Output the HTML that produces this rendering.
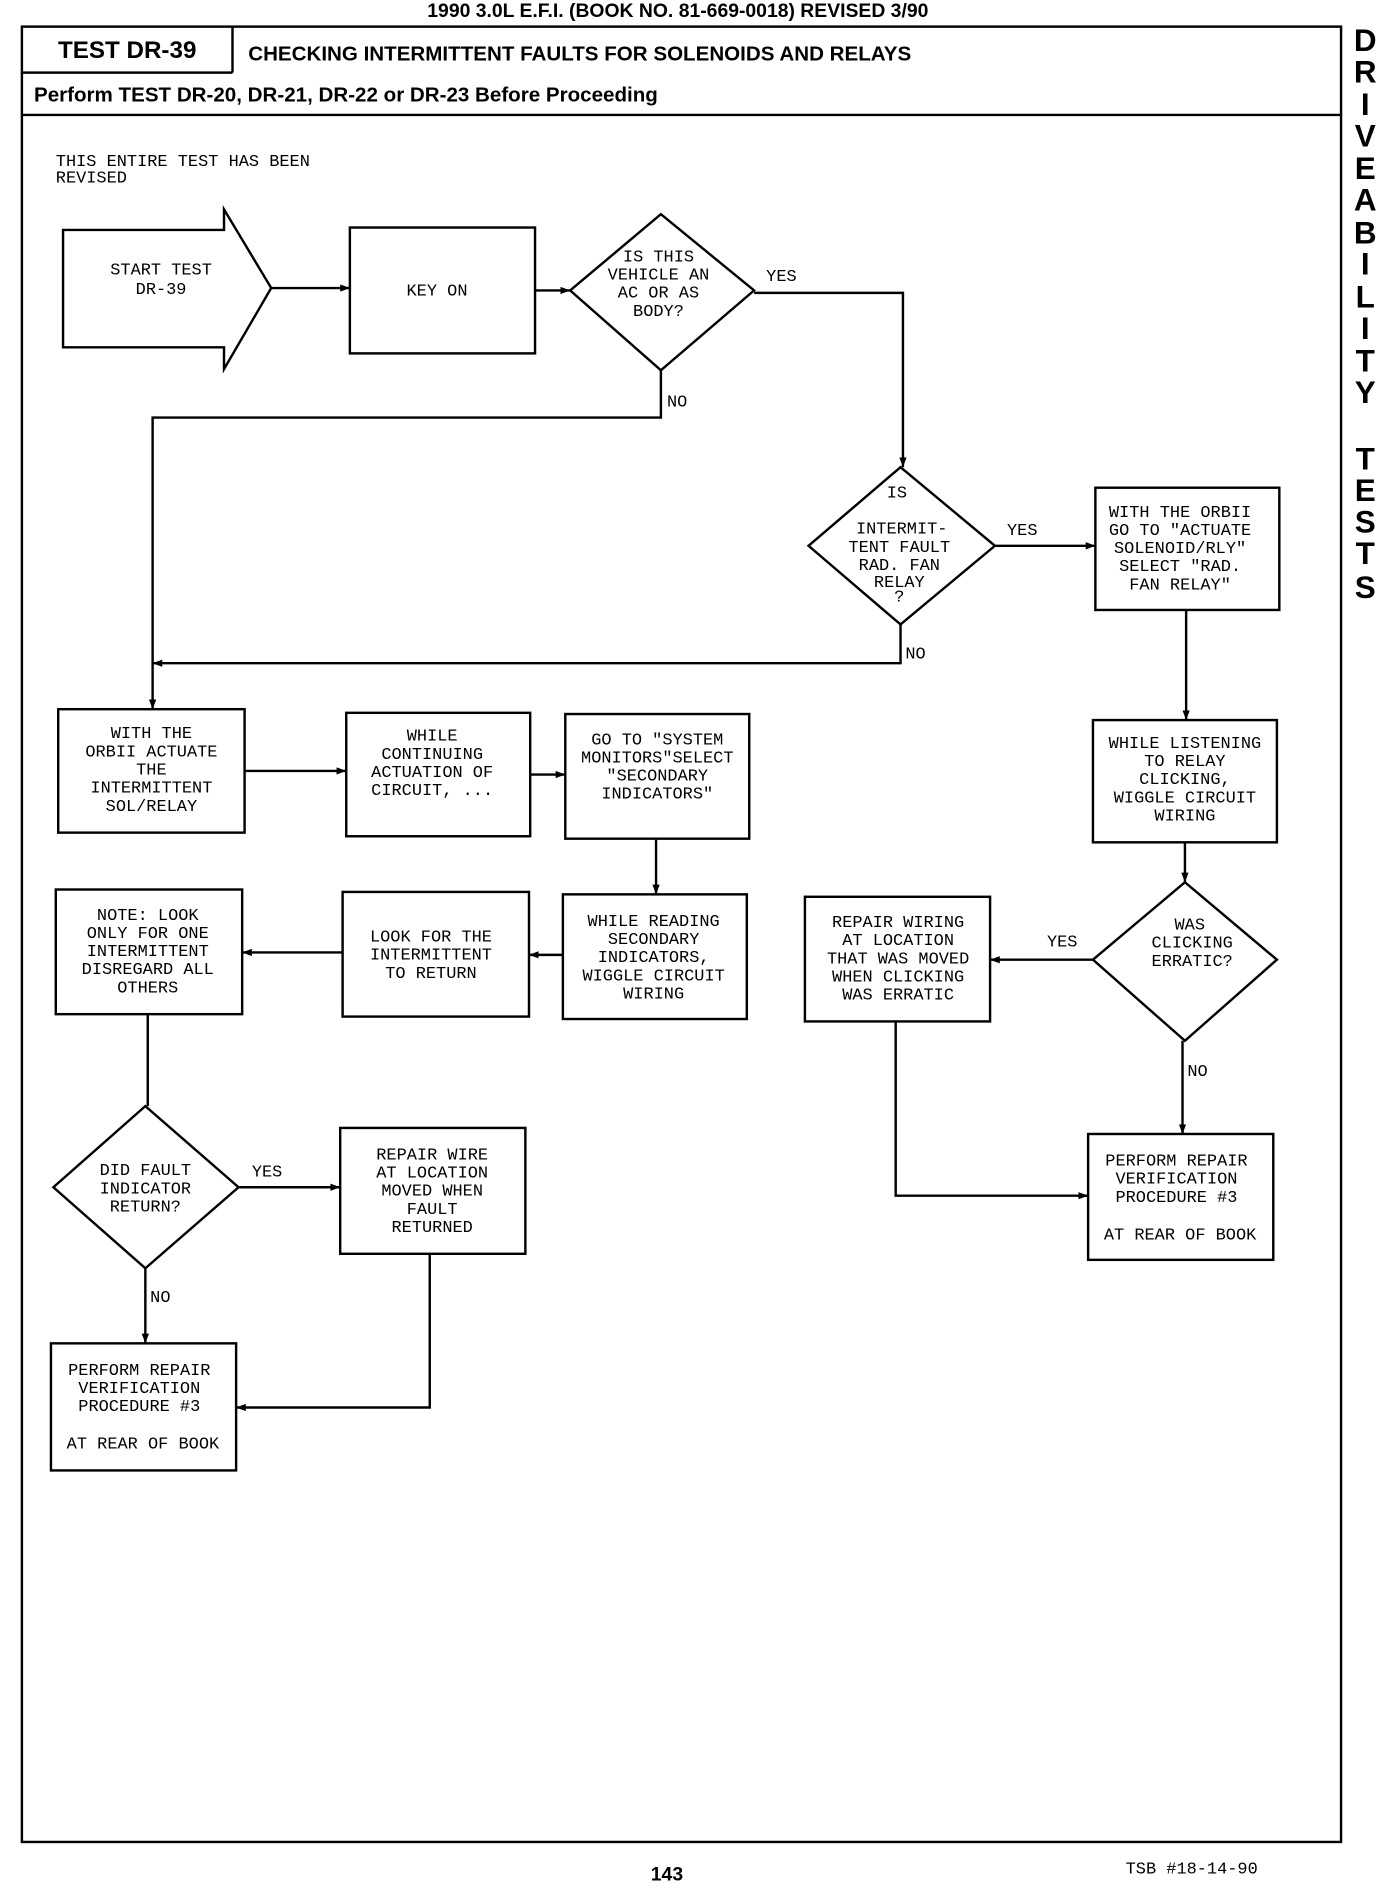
<!DOCTYPE html>
<html><head><meta charset="utf-8"><style>
html,body{margin:0;padding:0;background:#fff;}
svg{display:block;}
.t{font-family:"Liberation Mono",monospace;font-size:14px;fill:#000;text-anchor:middle;}
.l{font-family:"Liberation Mono",monospace;font-size:14px;fill:#000;}
.h{font-family:"Liberation Sans",sans-serif;font-weight:bold;fill:#000;}
.s{fill:none;stroke:#000;stroke-width:2;}
</style></head><body>
<svg width="1392" height="1894" viewBox="0 0 1150 1565" xmlns="http://www.w3.org/2000/svg">
<defs><marker id="a" markerWidth="8" markerHeight="6" refX="8" refY="3" orient="auto" markerUnits="userSpaceOnUse"><path d="M0,0 L8,3 L0,6 z" fill="#000"/></marker></defs>
<text class="h" x="560" y="14" font-size="16" text-anchor="middle">1990 3.0L E.F.I. (BOOK NO. 81-669-0018)   REVISED 3/90</text>
<!-- frame -->
<rect class="s" x="18" y="22" width="1090" height="1500"/>
<line class="s" x1="18" y1="95" x2="1108" y2="95"/>
<line class="s" x1="18" y1="60" x2="192" y2="60"/>
<line class="s" x1="192" y1="22" x2="192" y2="60"/>
<text class="h" x="105" y="48" font-size="20" text-anchor="middle">TEST DR-39</text>
<text class="h" x="205" y="50" font-size="17" style="font-weight:normal;font-weight:600">CHECKING INTERMITTENT FAULTS FOR SOLENOIDS AND RELAYS</text>
<text class="h" x="28" y="84" font-size="17">Perform TEST DR-20, DR-21, DR-22 or DR-23 Before Proceeding</text>
<!-- side -->
<g class="h" font-size="26" text-anchor="middle">
<text x="1128" y="42">D</text><text x="1128" y="68">R</text><text x="1128" y="95">I</text><text x="1128" y="121">V</text><text x="1128" y="148">E</text><text x="1128" y="174">A</text><text x="1128" y="201">B</text><text x="1128" y="227">I</text><text x="1128" y="254">L</text><text x="1128" y="280">I</text><text x="1128" y="307">T</text><text x="1128" y="333">Y</text>
<text x="1128" y="388">T</text><text x="1128" y="414">E</text><text x="1128" y="440">S</text><text x="1128" y="466">T</text><text x="1128" y="494">S</text>
</g>
<text class="h" x="551" y="1554" font-size="16" text-anchor="middle">143</text>
<text class="l" x="930" y="1548" font-size="16">TSB #18-14-90</text>
<text class="l" x="46" y="137">THIS ENTIRE TEST HAS BEEN</text>
<text class="l" x="46" y="151">REVISED</text>

<!-- start -->
<polygon class="s" points="52,190 185,190 185,173 224,238 185,305 185,287 52,287"/>
<text class="t" x="133" y="227">START TEST</text><text class="t" x="133" y="243">DR-39</text>
<line class="s" x1="224" y1="238" x2="289" y2="238" marker-end="url(#a)"/>
<rect class="s" x="289" y="188" width="153" height="104"/>
<text class="t" x="361" y="244">KEY ON</text>
<line class="s" x1="442" y1="240" x2="471" y2="240" marker-end="url(#a)"/>
<polygon class="s" points="471,240 546,177 623,240 546,306"/>
<text class="t" x="544" y="216">IS THIS</text><text class="t" x="544" y="231">VEHICLE AN</text><text class="t" x="544" y="246">AC OR AS</text><text class="t" x="544" y="261">BODY?</text>
<polyline class="s" points="623,242 746,242 746,386" marker-end="url(#a)"/>
<text class="l" x="633" y="232">YES</text>
<polyline class="s" points="546,306 546,345 126,345 126,586" marker-end="url(#a)"/>
<text class="l" x="551" y="336">NO</text>

<polygon class="s" points="744,386 822,451 744,516 668,451"/>
<text class="t" x="741" y="411">IS</text><text class="t" x="745" y="441">INTERMIT-</text><text class="t" x="743" y="456">TENT FAULT</text><text class="t" x="743" y="471">RAD. FAN</text><text class="t" x="743" y="485">RELAY</text><text class="t" x="743" y="497">?</text>
<line class="s" x1="822" y1="451" x2="905" y2="451" marker-end="url(#a)"/>
<text class="l" x="832" y="442">YES</text>
<polyline class="s" points="744,516 744,548 126,548" marker-end="url(#a)"/>
<text class="l" x="748" y="544">NO</text>

<rect class="s" x="905" y="403" width="152" height="101"/>
<text class="t" x="975" y="427">WITH THE ORBII</text><text class="t" x="975" y="442">GO TO "ACTUATE</text><text class="t" x="975" y="457">SOLENOID/RLY"</text><text class="t" x="975" y="472">SELECT "RAD.</text><text class="t" x="975" y="487">FAN RELAY"</text>
<line class="s" x1="980" y1="504" x2="980" y2="595" marker-end="url(#a)"/>
<rect class="s" x="903" y="595" width="152" height="101"/>
<text class="t" x="979" y="618">WHILE LISTENING</text><text class="t" x="979" y="633">TO RELAY</text><text class="t" x="979" y="648">CLICKING,</text><text class="t" x="979" y="663">WIGGLE CIRCUIT</text><text class="t" x="979" y="678">WIRING</text>
<line class="s" x1="979" y1="696" x2="979" y2="729" marker-end="url(#a)"/>
<polygon class="s" points="979,729 1055,793 979,860 903,793"/>
<text class="t" x="983" y="768">WAS</text><text class="t" x="985" y="783">CLICKING</text><text class="t" x="985" y="798">ERRATIC?</text>
<line class="s" x1="903" y1="793" x2="818" y2="793" marker-end="url(#a)"/>
<text class="l" x="865" y="782">YES</text>
<line class="s" x1="977" y1="860" x2="977" y2="937" marker-end="url(#a)"/>
<text class="l" x="981" y="889">NO</text>
<rect class="s" x="665" y="741" width="153" height="103"/>
<text class="t" x="742" y="766">REPAIR WIRING</text><text class="t" x="742" y="781">AT LOCATION</text><text class="t" x="742" y="796">THAT WAS MOVED</text><text class="t" x="742" y="811">WHEN CLICKING</text><text class="t" x="742" y="826">WAS ERRATIC</text>
<polyline class="s" points="740,844 740,988 899,988" marker-end="url(#a)"/>
<rect class="s" x="899" y="937" width="153" height="104"/>
<text class="t" x="972" y="963">PERFORM REPAIR</text><text class="t" x="972" y="978">VERIFICATION</text><text class="t" x="972" y="993">PROCEDURE #3</text><text class="t" x="975" y="1024">AT REAR OF BOOK</text>

<!-- left -->
<rect class="s" x="48" y="586" width="154" height="102"/>
<text class="t" x="125" y="610">WITH THE</text><text class="t" x="125" y="625">ORBII ACTUATE</text><text class="t" x="125" y="640">THE</text><text class="t" x="125" y="655">INTERMITTENT</text><text class="t" x="125" y="670">SOL/RELAY</text>
<line class="s" x1="202" y1="637" x2="286" y2="637" marker-end="url(#a)"/>
<rect class="s" x="286" y="589" width="152" height="102"/>
<text class="t" x="357" y="612">WHILE</text><text class="t" x="357" y="627">CONTINUING</text><text class="t" x="357" y="642">ACTUATION OF</text><text class="t" x="357" y="657">CIRCUIT, ...</text>
<line class="s" x1="438" y1="640" x2="467" y2="640" marker-end="url(#a)"/>
<rect class="s" x="467" y="590" width="152" height="103"/>
<text class="t" x="543" y="615">GO TO "SYSTEM</text><text class="t" x="543" y="630">MONITORS"SELECT</text><text class="t" x="543" y="645">"SECONDARY</text><text class="t" x="543" y="660">INDICATORS"</text>
<line class="s" x1="542" y1="693" x2="542" y2="739" marker-end="url(#a)"/>
<rect class="s" x="465" y="739" width="152" height="103"/>
<text class="t" x="540" y="765">WHILE READING</text><text class="t" x="540" y="780">SECONDARY</text><text class="t" x="540" y="795">INDICATORS,</text><text class="t" x="540" y="810">WIGGLE CIRCUIT</text><text class="t" x="540" y="825">WIRING</text>
<line class="s" x1="465" y1="789" x2="437" y2="789" marker-end="url(#a)"/>
<rect class="s" x="283" y="737" width="154" height="103"/>
<text class="t" x="356" y="778">LOOK FOR THE</text><text class="t" x="356" y="793">INTERMITTENT</text><text class="t" x="356" y="808">TO RETURN</text>
<line class="s" x1="283" y1="787" x2="200" y2="787" marker-end="url(#a)"/>
<rect class="s" x="46" y="735" width="154" height="103"/>
<text class="t" x="122" y="760">NOTE: LOOK</text><text class="t" x="122" y="775">ONLY FOR ONE</text><text class="t" x="122" y="790">INTERMITTENT</text><text class="t" x="122" y="805">DISREGARD ALL</text><text class="t" x="122" y="820">OTHERS</text>
<line class="s" x1="122" y1="838" x2="122" y2="914"/>
<polygon class="s" points="120,914 197,981 120,1048 44,981"/>
<text class="t" x="120" y="971">DID FAULT</text><text class="t" x="120" y="986">INDICATOR</text><text class="t" x="120" y="1001">RETURN?</text>
<line class="s" x1="197" y1="981" x2="281" y2="981" marker-end="url(#a)"/>
<text class="l" x="208" y="972">YES</text>
<rect class="s" x="281" y="932" width="153" height="104"/>
<text class="t" x="357" y="958">REPAIR WIRE</text><text class="t" x="357" y="973">AT LOCATION</text><text class="t" x="357" y="988">MOVED WHEN</text><text class="t" x="357" y="1003">FAULT</text><text class="t" x="357" y="1018">RETURNED</text>
<line class="s" x1="120" y1="1048" x2="120" y2="1110" marker-end="url(#a)"/>
<text class="l" x="124" y="1076">NO</text>
<polyline class="s" points="355,1036 355,1163 195,1163" marker-end="url(#a)"/>
<rect class="s" x="42" y="1110" width="153" height="105"/>
<text class="t" x="115" y="1136">PERFORM REPAIR</text><text class="t" x="115" y="1151">VERIFICATION</text><text class="t" x="115" y="1166">PROCEDURE #3</text><text class="t" x="118" y="1197">AT REAR OF BOOK</text>
</svg>
</body></html>
